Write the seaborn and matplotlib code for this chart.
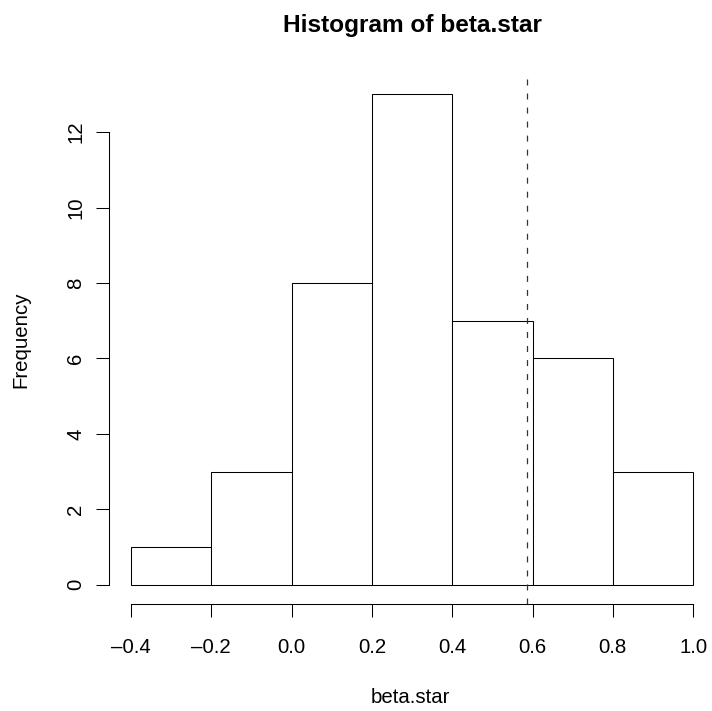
import matplotlib
matplotlib.use('Agg')
import matplotlib.pyplot as plt
import seaborn as sns
import numpy as np
import pandas as pd

# histogram data
bin_edges = [-0.4, -0.2, 0.0, 0.2, 0.4, 0.6, 0.8, 1.0]
bin_counts = [1, 3, 8, 13, 7, 6, 3]
observed_beta = 0.586
x_ticks = [-0.4, -0.2, 0.0, 0.2, 0.4, 0.6, 0.8, 1.0]
y_ticks = [0, 2, 4, 6, 8, 10, 12]

sns.set_style("white")
plt.rcParams['font.family'] = ['Liberation Sans', 'DejaVu Sans']
plt.rcParams['text.color'] = 'black'
plt.rcParams['axes.labelcolor'] = 'black'
plt.rcParams['xtick.color'] = 'black'
plt.rcParams['ytick.color'] = 'black'
plt.rcParams['lines.scale_dashes'] = False

centers = [(a + b) / 2 for a, b in zip(bin_edges[:-1], bin_edges[1:])]
df = pd.DataFrame({'beta.star': centers, 'n': bin_counts})

fig = plt.figure(figsize=(7.12, 7.11), dpi=100)
ax = fig.add_axes([0.1524, 0.1501, 0.8476, 0.7446])

sns.histplot(data=df, x='beta.star', weights='n', bins=bin_edges,
             color='white', edgecolor='black', linewidth=0.75, alpha=1, ax=ax)
ax.axvline(observed_beta, color='#333333', linewidth=0.9, dashes=(4.3, 5.8))

ax.set_xlim(-0.456, 1.047)
ax.set_ylim(-0.52, 13.52)
ax.set_xticks(x_ticks)
ax.set_xticklabels([f'{v:.1f}'.replace('-', '\u2013') for v in x_ticks])
ax.set_yticks(y_ticks)
ax.set_yticklabels([str(v) for v in y_ticks], rotation=90, va='center')

for side in ['top', 'right']:
    ax.spines[side].set_visible(False)
ax.spines['bottom'].set_bounds(-0.4, 1.0)
ax.spines['left'].set_bounds(0, 12)
for side in ['bottom', 'left']:
    ax.spines[side].set_linewidth(0.75)
    ax.spines[side].set_color('black')

ax.tick_params(axis='both', direction='out', length=9.4, width=0.75,
               labelsize=14.7, color='black', bottom=True, left=True)
ax.tick_params(axis='x', pad=14.9)
ax.tick_params(axis='y', pad=7.3)
ax.grid(False)

ax.set_xlabel('beta.star', fontsize=14.7)
ax.xaxis.label.set_va('baseline')
ax.xaxis.set_label_coords(0.501, -0.187)
ax.set_ylabel('Frequency', fontsize=14.7)
ax.yaxis.label.set_va('center')
ax.yaxis.set_label_coords(-0.145, 0.5)
fig.suptitle('Histogram of beta.star', fontsize=17.6, fontweight='bold',
             x=0.579, y=1 - 32.4 / 711, va='baseline')

plt.savefig('out.png', dpi=100)
plt.close()
